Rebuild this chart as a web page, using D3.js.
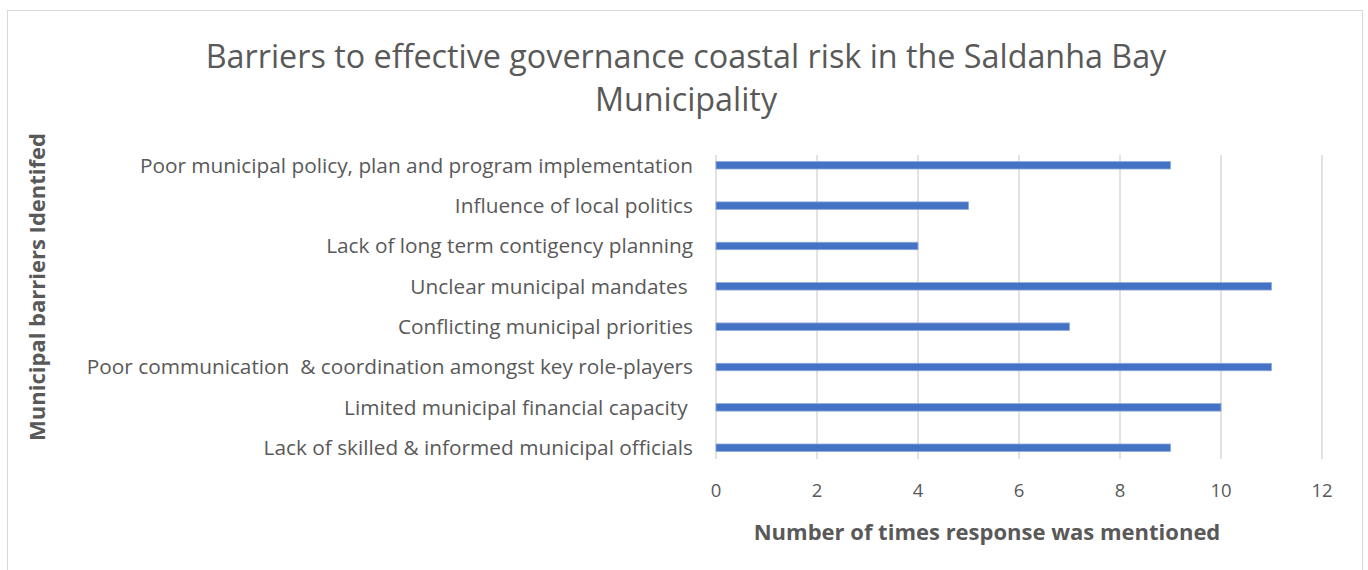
<!DOCTYPE html>
<html><head><meta charset="utf-8">
<script src="https://cdn.jsdelivr.net/npm/d3@7"></script>
<style>body{margin:0;background:#fff;} svg{display:block;} text{white-space:pre;}</style>
</head><body>
<script>
const categories = [
  "Poor municipal policy, plan and program implementation",
  "Influence of local politics",
  "Lack of long term contigency planning",
  "Unclear municipal mandates ",
  "Conflicting municipal priorities",
  "Poor communication  & coordination amongst key role-players",
  "Limited municipal financial capacity ",
  "Lack of skilled & informed municipal officials"
];
const values = [9, 5, 4, 11, 7, 11, 10, 9];
const xTicks = [0, 2, 4, 6, 8, 10, 12];
const titleLines = ["Barriers to effective governance coastal risk in the Saldanha Bay", "Municipality"];
const xTitle = "Number of times response was mentioned";
const yTitle = "Municipal barriers Identifed";

const W = 1368, H = 570;
const font = "'Open Sans', sans-serif";
const txt = "#595959";
const svg = d3.select("body").append("svg").attr("width", W).attr("height", H);

svg.append("rect").attr("x", 7.5).attr("y", 10.5).attr("width", 1355).attr("height", 580)
  .attr("fill", "#fff").attr("stroke", "#d9d9d9").attr("stroke-width", 1);

const x = d3.scaleLinear().domain([0, 12]).range([716, 1322]);
const y = d3.scaleBand().domain(categories).range([145, 468]).paddingInner(0.815).paddingOuter(0.41);
const gridTop = 155, gridBot = 459;

svg.append("g").selectAll("line").data(xTicks).join("line")
  .attr("x1", d => x(d)).attr("x2", d => x(d))
  .attr("y1", gridTop).attr("y2", gridBot)
  .attr("stroke", "#d9d9d9").attr("stroke-width", 1.5);

svg.append("g").selectAll("rect").data(values).join("rect")
  .attr("x", x(0)).attr("y", (d, i) => y(categories[i]))
  .attr("width", d => x(d) - x(0)).attr("height", y.bandwidth())
  .attr("fill", "#4472C4").attr("stroke", "#8eaadb").attr("stroke-width", 0.8);

svg.append("g").selectAll("text").data(categories).join("text")
  .attr("x", 693).attr("y", d => y(d) + y.bandwidth() / 2)
  .attr("dy", "0.35em").attr("text-anchor", "end")
  .attr("font-family", font).attr("font-size", 20.8).attr("fill", txt)
  .text(d => d);

svg.append("g").selectAll("text").data(xTicks).join("text")
  .attr("x", d => x(d)).attr("y", 491).attr("dy", "0.35em").attr("text-anchor", "middle")
  .attr("font-family", font).attr("font-size", 18.5).attr("fill", txt)
  .text(d => d);

svg.append("text").attr("x", 987).attr("y", 532).attr("dy", "0.35em").attr("text-anchor", "middle")
  .attr("font-family", font).attr("font-size", 22).attr("font-weight", "bold").attr("fill", txt)
  .text(xTitle);

svg.append("text").attr("transform", "translate(37,287) rotate(-90)").attr("dy", "0.35em")
  .attr("text-anchor", "middle")
  .attr("font-family", font).attr("font-size", 22).attr("font-weight", "bold").attr("fill", txt)
  .text(yTitle);

svg.append("g").selectAll("text").data(titleLines).join("text")
  .attr("x", 686).attr("y", (d, i) => 57 + i * 43).attr("dy", "0.35em").attr("text-anchor", "middle")
  .attr("font-family", font).attr("font-size", 32.3).attr("fill", txt)
  .text(d => d);
</script>
</body></html>
